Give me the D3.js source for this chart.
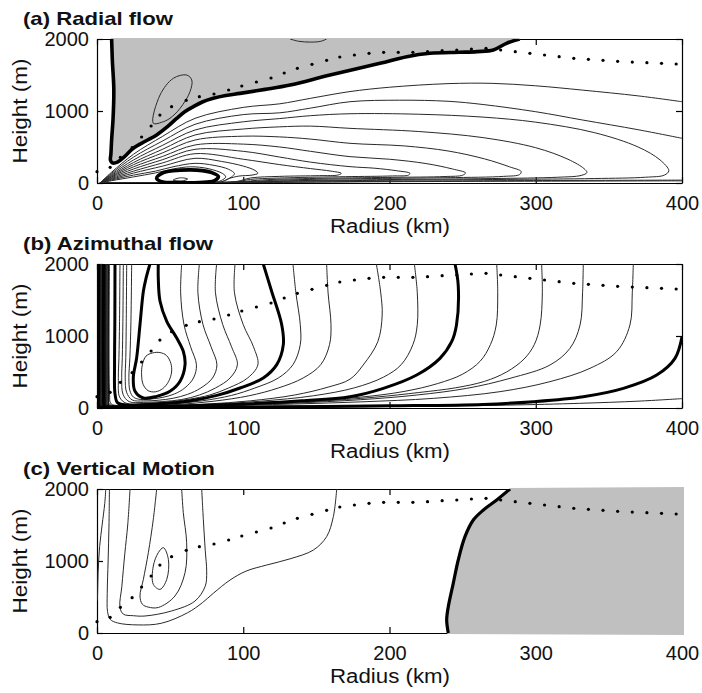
<!DOCTYPE html>
<html>
<head>
<meta charset="utf-8">
<script src="https://cdnjs.cloudflare.com/ajax/libs/d3/7.8.5/d3.min.js"></script>
<style>
  body { margin: 0; background: #fff; }
  svg text { font-family: "Liberation Sans", Arial, Helvetica, sans-serif; fill: #111; }
</style>
</head>
<body>
<div id="viz"></div>
<script>
// panel text
var panelTitles = ["(a) Radial flow", "(b) Azimuthal flow", "(c) Vertical Motion"];
var xTicks = [0, 100, 200, 300, 400];
var yTicks = [0, 1000, 2000];

// boundary layer height (dotted curve), same in all panels: radius km / height m
var blRadius = [0,9,16,24,30.5,37,43,51,61,70,80,90,99,109,119,128,137,147,157,166,176,186,196,206,216,226,236,246,256,266,276,286,296,306,316,326,336,346,356,366,376,386,396];
var blHeight = [157,218,357,490,639,792,944,1060,1148,1199,1236,1292,1347,1403,1458,1528,1593,1648,1704,1750,1778,1801,1815,1815,1815,1824,1838,1847,1861,1870,1847,1824,1801,1778,1754,1731,1718,1704,1690,1680,1671,1662,1653];

// (a) radial flow contours, [radius, height]
var radialZero = [[10,2000],[10.5,1700],[11.5,1300],[11,900],[10,600],[9.5,400],[9.2,320],[10.5,280],[14,290],[19,370],[24.8,482],[33,580],[40.8,667],[48,780],[54.5,898],[60,990],[65.9,1060],[72,1125],[79.5,1176],[88,1215],[97.8,1245],[115,1300],[132,1361],[159.3,1500],[193.5,1662],[211.8,1754],[227.7,1801],[248,1815],[260,1825],[271,1847],[280,1940],[289,2000]];
var radialThickLoops = [
  [[40.8,65],[45,140],[52,170],[63.6,182],[72,172],[79,140],[83,90],[80,30],[70,8],[55,6],[45,15]]
];
var radialThin = [
  [[2,0],[10,150],[25,400],[45,650],[67,898],[100,1050],[125,1100],[146,1176],[173,1270],[200,1330],[240,1380],[270,1384],[300,1350],[332,1290],[370,1210],[400,1129]],
  [[2,0],[60,1],[95,3],[150,12],[250,22],[400,30]],
  [[2,0],[10,135],[25,360],[45,585],[67,815],[100,950],[125,975],[146,1040],[173,1129],[207,1150],[240,1135],[264,1090],[300,990],[332,875],[370,740],[400,621]],
  [[2,0],[60,2],[95,5],[150,16],[250,30],[400,40]],
  [[2,0],[10,120],[25,320],[45,525],[67,736],[100,850],[125,895],[146,935],[173,962],[220,955],[264,915],[300,845],[340,700],[370,500],[385,320],[391,170],[388,110],[375,80],[340,62],[280,50],[200,38],[130,24],[95,8],[60,3],[2,0]],
  [[2,0],[10,107],[25,285],[45,470],[67,667],[100,750],[125,780],[146,790],[173,759],[220,715],[264,630],[300,490],[322,330],[333,200],[335,145],[331,105],[315,80],[270,62],[200,48],[130,30],[95,10],[60,3],[2,0]],
  [[2,0],[10,95],[25,255],[45,420],[67,597],[100,650],[125,640],[146,610],[173,551],[210,515],[240,445],[265,335],[282,225],[290,160],[289,118],[278,92],[240,74],[180,60],[125,40],[95,12],[60,4],[2,0]],
  [[2,0],[10,85],[25,225],[45,370],[67,528],[100,540],[125,500],[146,440],[173,366],[200,330],[225,270],[243,195],[252,140],[250,108],[238,90],[200,78],[150,64],[115,45],[95,14],[60,5],[2,0]],
  [[2,0],[10,74],[25,195],[45,325],[67,468],[100,440],[125,360],[146,290],[173,227],[190,205],[205,170],[214,135],[213,110],[202,98],[170,88],[130,72],[105,50],[95,16],[60,6],[2,0]],
  [[2,0],[10,63],[25,165],[45,280],[67,407],[100,330],[125,255],[146,200],[160,165],[167,135],[165,112],[152,102],[125,92],[105,70],[95,20],[60,7],[2,0]],
  [[2,0],[10,52],[25,138],[45,235],[67,343],[85,300],[100,235],[108,175],[110,135],[106,110],[97,96],[90,60],[86,22],[70,8],[2,0]],
  [[2,0],[10,42],[25,110],[40,165],[52,225],[67,273],[80,245],[90,190],[94,130],[92,85],[88,40],[84,10],[70,4],[2,0]],
  [[2,0],[10,32],[25,85],[40,140],[52,195],[64,225],[76,200],[86,130],[88,85],[85,35],[80,8],[60,3],[2,0]],
  [[132,2000],[138,1968],[146,1957],[153,1968],[157,2000]]
];
var radialThinLoops = [
  [[38.5,829],[43.1,1222],[52.2,1454],[61.3,1500],[64.8,1431],[63.6,1268],[56.8,1037],[49.9,899],[44.2,843]],
  [[52,40],[57,72],[62,55],[58,28]]
];

// (b) azimuthal flow contours
var azimThick = [
  [[36.2,2000],[33.5,1800],[31.7,1621],[29.4,1157],[27.1,694],[24.8,417],[26,232],[31.7,139],[40.8,162],[49.9,232],[56.8,371],[60.2,601],[59,788],[54.5,972],[47.7,1204],[43.1,1482],[41.9,1806],[41.9,2000]],
  [[113.7,2000],[119.4,1621],[126.3,1157],[127.4,880],[122.9,602],[113.7,417],[97.8,278],[82,175],[65,105],[48,65],[32,45],[20,42],[14,75],[12.3,200],[12,600],[12.2,1200],[12.3,2000]],
  [[244.8,2000],[247,1700],[245.8,1153],[242.5,921],[234.5,690],[218.6,458],[195.8,273],[173,157],[140,100],[105,60],[70,35],[35,20],[12,16],[5,35],[4.5,200],[4.5,2000]],
  [[400,990],[395.2,690],[382.7,458],[359.9,273],[332.5,157],[298.3,88],[264,50],[200,30],[120,16],[50,8],[5,6],[1.4,20],[1.2,200],[1.2,2000]]
];
var azimThin = [
  [[57.9,2000],[57.2,1600],[59.5,1157],[64,850],[68,600],[66,417],[60,278],[53,195],[45,148],[37,125],[30,118],[25,150],[22.5,240],[21.8,420],[22.5,700],[23.2,1200],[23.7,2000]],
  [[70,2000],[69,1600],[72.5,1157],[78,850],[82,600],[79,417],[71,278],[62,190],[52,135],[42,108],[32,98],[24,112],[20.2,220],[19.3,420],[19.7,700],[20,1200],[20.3,2000]],
  [[81.8,2000],[81,1600],[86,1157],[92,850],[96,600],[91,417],[81,278],[70,180],[58,118],[45,90],[32,78],[22,88],[17.8,190],[16.9,420],[17.3,700],[17.7,1200],[18,2000]],
  [[94.4,2000],[94,1600],[100,1157],[107,850],[110,600],[103,417],[90,278],[77,180],[63,122],[48,82],[33,62],[20,66],[15.5,150],[14.6,420],[15,700],[15.4,1200],[15.7,2000]],
  [[134,2000],[136,1600],[139,1157],[139,880],[134,602],[124,417],[108,278],[92,175],[72,100],[52,58],[32,36],[16,32],[9.5,60],[8.6,200],[8.5,2000]],
  [[157,2000],[158,1600],[160,1157],[159,880],[153,602],[141,417],[124,278],[104,170],[80,95],[56,50],[34,30],[16,27],[8.3,55],[7.6,200],[7.5,2000]],
  [[191,2000],[194,1600],[195,1292],[192,921],[182,597],[173,400],[158,290],[135,180],[105,100],[75,55],[45,30],[20,23],[7.2,45],[6.6,200],[6.5,2000]],
  [[217,2000],[219,1600],[219,1157],[216,880],[208,602],[196,430],[176,280],[148,170],[112,95],[78,52],[45,28],[20,20],[6.2,38],[5.6,200],[5.5,2000]],
  [[273.3,2000],[274,1600],[273,1153],[269,880],[262,650],[250,470],[233,340],[210,230],[180,150],[140,95],[95,55],[50,28],[15,16],[4.2,35],[3.8,200],[3.8,2000]],
  [[304,2000],[304.5,1600],[303,1153],[299,880],[292,680],[280,500],[265,370],[245,280],[220,215],[190,150],[150,92],[105,52],[60,26],[25,14],[8,11],[3.5,25],[3.1,200],[3.1,2000]],
  [[332.5,2000],[332,1600],[330.3,1153],[323.4,829],[309.7,597],[282.4,412],[252.8,273],[218.6,180],[180,115],[135,68],[90,38],[45,17],[12,8],[2.8,20],[2.5,200],[2.5,2000]],
  [[366.7,2000],[366,1600],[364.4,1153],[355.3,782],[337.1,551],[309.7,366],[275.6,227],[230,134],[180,85],[120,48],[60,24],[20,12],[2.2,16],[1.9,200],[1.9,2000]],
  [[400,130],[370,95],[330,65],[280,40],[200,20],[120,10],[50,5],[2,4],[0.7,20],[0.6,200],[0.6,2000]]
];
var azimThinLoops = [
  [[31,600],[33.5,720],[38,765],[43,770],[47.5,730],[50.5,620],[51,500],[49,370],[45,270],[40,225],[35,240],[31.5,330],[30.5,460]]
];
// densely packed core contours (nearly vertical, reach the surface)
var azimCoreRadius = [0.3,0.9,1.5,2.2,2.8,3.4,4.0,4.9,5.8,6.8,7.8];

// (c) vertical motion contours
var vertZero = [[282.4,2000],[273.3,1847],[264.2,1708],[257.3,1569],[251.6,1338],[247,1014],[243.6,690],[240.2,366],[239.1,181],[240.2,0]];
var vertThin = [
  [[6,2000],[5.3,1800],[3.5,1500],[1.8,1200],[0.8,850],[0.3,450]],
  [[8.5,2000],[8.2,1500],[7.6,1000],[7,550],[7.2,300],[9,190],[14,140],[28,112],[44,135],[62,282],[72,420],[79.5,551],[91,736],[102,860],[116,944],[132,1030],[148,1153],[157,1338],[161.6,1616],[163.9,2000]],
  [[22.6,2000],[21,1500],[19,1100],[17,650],[15.7,360],[18,262],[25,240],[32.8,236],[51,306],[67,444],[74,650],[75,850],[74,1150],[72.7,1580],[71.6,2000]],
  [[40.8,2000],[38.5,1579],[35.1,1115],[31.7,745],[29.4,514],[31,400],[35,360],[42,355],[53.3,514],[60.2,838],[61.3,1254],[59,1671],[57.9,2000]]
];
var vertThinLoops = [
  [[45.4,1185],[48.8,1023],[47.7,745],[43.1,606],[38.5,676],[38.5,930],[41.9,1115]]
];

// layout
var w = 702, h = 693;
var plotTop = 39, panelStep = 225, plotH = 144;

var x = d3.scaleLinear().domain([0, 400]).range([97, 682]);
var y = d3.scaleLinear().domain([0, 2000]).range([plotH, 0]);

var line = d3.line()
             .x(function(d){ return x(d[0]); })
             .y(function(d){ return y(d[1]); })
             .curve(d3.curveCatmullRom.alpha(0.5));
var loop = d3.line()
             .x(function(d){ return x(d[0]); })
             .y(function(d){ return y(d[1]); })
             .curve(d3.curveCatmullRomClosed.alpha(0.5));

var svg = d3.select("#viz")
            .append("svg")
            .attr("width", w)
            .attr("height", h);

svg.append("defs").append("clipPath")
   .attr("id", "plotclip")
   .append("rect")
   .attr("x", x(0)).attr("y", 0)
   .attr("width", x(400) - x(0)).attr("height", plotH);

// shaded (negative) areas
var shadeA = line(radialZero) + "Z";
var shadeC = line(vertZero) + "L" + (x(400) + 1) + "," + (y(0) + 1) +
             "L" + (x(400) + 1) + "," + (y(2000) - 1) + "Z";

var azimCore = azimCoreRadius.map(function(r){ return [[r, 2000], [r, 0]]; });

var panels = [
  {thick: [radialZero], thickLoops: radialThickLoops, thin: radialThin, thinLoops: radialThinLoops, core: [], shade: shadeA, thickW: 3.6, titleW: 150},
  {thick: azimThick, thickLoops: [], thin: azimThin, thinLoops: azimThinLoops, core: azimCore, shade: null, thickW: 3, titleW: 190},
  {thick: [vertZero], thickLoops: [], thin: vertThin, thinLoops: vertThinLoops, core: [], shade: shadeC, thickW: 3.2, titleW: 192}
];

panels.forEach(function(p, i){
  var g = svg.append("g")
             .attr("transform", "translate(0," + (plotTop + i * panelStep) + ")");

  // frame + inward ticks on all sides
  var axes = [
    {ax: d3.axisBottom(x).tickValues(xTicks), t: "translate(0," + plotH + ")", lab: true, pad: 13},
    {ax: d3.axisTop(x).tickValues(xTicks), t: "translate(0,0)", lab: false, pad: 3},
    {ax: d3.axisLeft(y).tickValues(yTicks), t: "translate(" + x(0) + ",0)", lab: true, pad: 8},
    {ax: d3.axisRight(y).tickValues(yTicks), t: "translate(" + x(400) + ",0)", lab: false, pad: 3}
  ];
  axes.forEach(function(a){
    a.ax.tickSize(-6).tickSizeOuter(0).tickPadding(a.pad)
        .tickFormat(a.lab ? d3.format("d") : "");
    var ag = g.append("g").attr("transform", a.t).call(a.ax);
    ag.attr("font-family", null).attr("font-size", 20);
    ag.select(".domain").attr("stroke", "#000").attr("stroke-width", 1.2);
    ag.selectAll(".tick line").attr("stroke", "#000").attr("stroke-width", 1.2);
    ag.selectAll(".tick text").style("fill", "#111");
  });

  if (p.shade) {
    g.append("path")
     .attr("d", p.shade)
     .attr("fill", "#c0c0c0")
     .attr("stroke", "#c0c0c0")
     .attr("stroke-width", 2);
  }

  var c = g.append("g").attr("clip-path", "url(#plotclip)");

  c.selectAll("path.core")
   .data(p.core)
   .enter().append("path")
   .attr("class", "core")
   .attr("d", d3.line().x(function(d){ return x(d[0]); }).y(function(d){ return y(d[1]); }))
   .attr("fill", "none")
   .attr("stroke", "#000")
   .attr("stroke-width", 1.4);

  c.selectAll("path.thin")
   .data(p.thin)
   .enter().append("path")
   .attr("class", "thin")
   .attr("d", line)
   .attr("fill", "none")
   .attr("stroke", "#2a2a2a")
   .attr("stroke-width", 1);

  c.selectAll("path.thinloop")
   .data(p.thinLoops)
   .enter().append("path")
   .attr("class", "thinloop")
   .attr("d", loop)
   .attr("fill", "none")
   .attr("stroke", "#2a2a2a")
   .attr("stroke-width", 1);

  c.selectAll("path.thick")
   .data(p.thick)
   .enter().append("path")
   .attr("class", "thick")
   .attr("d", line)
   .attr("fill", "none")
   .attr("stroke", "#000")
   .attr("stroke-width", p.thickW)
   .attr("stroke-linejoin", "round");

  c.selectAll("path.thickloop")
   .data(p.thickLoops)
   .enter().append("path")
   .attr("class", "thickloop")
   .attr("d", loop)
   .attr("fill", "none")
   .attr("stroke", "#000")
   .attr("stroke-width", p.thickW);

  // boundary layer dots
  g.selectAll("circle")
   .data(blRadius)
   .enter().append("circle")
   .attr("cx", function(d){ return x(d); })
   .attr("cy", function(d, j){ return y(blHeight[j]); })
   .attr("r", 1.6)
   .attr("fill", "#000");

  // labels
  g.append("text")
   .attr("x", 23).attr("y", -14)
   .attr("font-size", 19).attr("font-weight", "bold")
   .attr("textLength", p.titleW).attr("lengthAdjust", "spacingAndGlyphs")
   .text(panelTitles[i]);

  g.append("text")
   .attr("x", 390).attr("y", 194)
   .attr("text-anchor", "middle")
   .attr("font-size", 20)
   .attr("textLength", 120).attr("lengthAdjust", "spacingAndGlyphs")
   .text("Radius (km)");

  g.append("text")
   .attr("transform", "translate(27," + (plotH / 2) + ") rotate(-90)")
   .attr("text-anchor", "middle")
   .attr("font-size", 20)
   .attr("textLength", 105).attr("lengthAdjust", "spacingAndGlyphs")
   .text("Height (m)");
});
</script>
</body>
</html>
